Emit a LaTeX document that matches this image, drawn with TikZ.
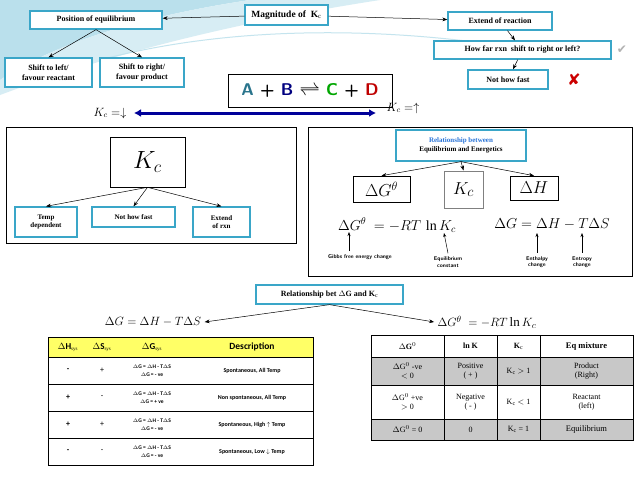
\documentclass[tikz,border=0pt]{standalone}
\usepackage{fontspec}
\setmainfont{Liberation Serif}
\newfontfamily\carfont{Carlito}
\newfontfamily\djfont{DejaVu Sans}
\usetikzlibrary{arrows.meta}
\definecolor{teal1}{HTML}{3AA6C8}
\definecolor{yel}{HTML}{FFFF66}
\definecolor{gry}{HTML}{C8C8C8}
\tikzset{
 tb/.style={draw=teal1,line width=1.3pt,fill=white,font=\bfseries\fontsize{8}{9.5}\selectfont,align=center,inner sep=2pt},
 bb/.style={draw=black,line width=0.8pt,fill=white},
 ar/.style={-{Stealth[length=5pt]},black,line width=0.5pt},
 sm/.style={font=\sffamily\fontsize{5.5}{6.5}\selectfont\bfseries,align=center},
 tx/.style={font=\carfont\fontsize{6.5}{8.5}\selectfont,align=center},
}
\begin{document}
\begin{tikzpicture}[x=1pt,y=-1pt]
\useasboundingbox (0,0) rectangle (638,479);
\fill[white] (0,0) rectangle (638,479);
% swoosh
\fill[teal1!35] (0,0) -- (250,0) .. controls (150,15) and (60,40) .. (0,80) -- cycle;
\fill[teal1!20] (250,0) -- (380,0) .. controls (250,20) and (120,50) .. (0,95) -- (0,80) .. controls (60,40) and (150,15) .. (250,0);
\draw[teal1!30,line width=1pt] (100,60) .. controls (250,20) and (420,30) .. (540,52);
% top
\node[tb,minimum width=83pt,minimum height=20pt,font=\bfseries\fontsize{9.5}{10}\selectfont] (mag) at (286.5,15) {Magnitude of \ K$_\mathrm{c}$};
\node[tb,minimum width=132pt,minimum height=18pt] (pos) at (96,20) {Position of equilibrium};
\node[tb,minimum width=104pt,minimum height=18pt] (ext) at (500,21) {Extend of reaction};
\node[tb,minimum width=87pt,minimum height=29pt] (sl) at (48.5,72.5) {Shift to left/\\favour reactant};
\node[tb,minimum width=84pt,minimum height=29pt] (sr) at (142,72.5) {Shift to right/\\favour product};
\node[tb,minimum width=177pt,minimum height=18pt] (how) at (522.5,50) {How far rxn \ shift to right or left?};
\node[tb,minimum width=80pt,minimum height=19pt] (nf) at (508,79.5) {Not how fast};
\node[text=gray!60,font=\djfont\fontsize{12}{12}\selectfont] (ck) at (622,50) {✔};
\node[text=red!80!black,font=\djfont\bfseries\fontsize{16}{16}\selectfont] (xx) at (574,80) {✘};
\draw[ar] (mag) -- (pos);
\draw[ar] (mag) -- (ext);
\draw[ar] (pos.south) -- (sl.north);
\draw[ar] (pos.south) -- (sr.north);
\draw[ar] (ext) -- (how);
\draw[ar] (how) -- (nf);
\node[draw,line width=0.8pt,minimum width=164pt,minimum height=33pt,font=\sffamily\bfseries\fontsize{17}{17}\selectfont] (eq) at (310,90.5)
 {\textcolor{teal1!70!black}{A} + \textcolor{blue!50!black}{B} {\fontsize{22}{22}\selectfont$\rightleftharpoons$} \textcolor{green!65!black}{C} + \textcolor{red!75!black}{D}};
\node[font=\fontsize{12}{12}\selectfont,inner sep=1pt] (kd) at (110,113) {$K_c = \downarrow$};
\node[font=\fontsize{12}{12}\selectfont,inner sep=1pt] (ku) at (403,108) {$K_c = \uparrow$};
\coordinate (a1) at (134,113);
\coordinate (a2) at (376,113);
\draw[{Latex[length=7pt,width=8pt]}-{Latex[length=7pt,width=8pt]},line width=3pt,blue!60!black] (a1) -- (a2);
% left box
\node[bb,minimum width=290pt,minimum height=116pt] (lb) at (151,185) {};
\node[draw,line width=0.6pt,minimum width=75pt,minimum height=50pt,font=\fontsize{24}{24}\selectfont] (kc) at (147.5,162) {$K_c$};
\node[tb,font=\bfseries\fontsize{7}{8.5}\selectfont,minimum width=62pt,minimum height=30pt] (tmp) at (46,222) {Temp\\dependent};
\node[tb,font=\bfseries\fontsize{7}{8.5}\selectfont,minimum width=83pt,minimum height=20pt] (nf2) at (133.5,217) {Not how fast};
\node[tb,font=\bfseries\fontsize{7}{8.5}\selectfont,minimum width=57pt,minimum height=30pt] (ex2) at (221.5,222) {Extend\\of rxn};
\draw[ar] (kc.south) -- (tmp.north);
\draw[ar] (kc.south) -- (nf2.north);
\draw[ar] (kc.south) -- (ex2.north);
% right box
\node[bb,minimum width=324pt,minimum height=149pt] (rb) at (470,201.5) {};
\node[tb,font=\bfseries\fontsize{7}{8.5}\selectfont,minimum width=130pt,minimum height=31pt] (rel) at (461,145.5) {\textcolor{teal1!70!blue}{Relationship between}\\Equilibrium and Energetics};
\node[draw,line width=0.6pt,minimum width=57pt,minimum height=26pt,font=\fontsize{17}{17}\selectfont] (dg) at (381.5,189) {$\Delta G^{\theta}$};
\node[draw=gray,line width=1pt,minimum width=39pt,minimum height=37pt,font=\fontsize{19}{19}\selectfont] (kc2) at (463.5,189.5) {$K_c$};
\node[draw,line width=0.6pt,minimum width=48pt,minimum height=24pt,font=\fontsize{17}{17}\selectfont] (dh) at (534,188) {$\Delta H$};
\draw[ar] (rel.south) -- (dg.north);
\draw[ar] (rel.south) -- (kc2.north);
\draw[ar] (rel.south) -- (dh.north);
\node[font=\fontsize{14}{14}\selectfont] (e1) at (397,225) {$\Delta G^{\theta}\ =-RT\,\ln K_c$};
\node[font=\fontsize{14}{14}\selectfont] (e2) at (552,224) {$\Delta G=\Delta H-T\Delta S$};
\node[sm] (l1) at (360,257) {Gibbs free energy change};
\node[sm] (l2) at (448,262) {Equilibrium\\constant};
\node[sm] (l3) at (537,262) {Enthalpy\\change};
\node[sm] (l4) at (582,262) {Entropy\\change};
\coordinate (p1) at (349,232); \coordinate (p2) at (444,233); \coordinate (p3) at (537,233); \coordinate (p4) at (582,233);
\coordinate (q1) at (349,251);
\draw[-{Stealth[length=4pt]},line width=0.5pt] (q1) -- (p1);
\draw[-{Stealth[length=4pt]},line width=0.5pt] (l2.north) -- (p2);
\draw[-{Stealth[length=4pt]},line width=0.5pt] (l3.north) -- (p3);
\draw[-{Stealth[length=4pt]},line width=0.5pt] (l4.north) -- (p4);
% relationship bet
\node[tb,minimum width=147pt,minimum height=19pt] (rg) at (329.5,294.5) {Relationship bet $\Delta$G and K$_\mathrm{c}$};
\node[font=\fontsize{13}{13}\selectfont] (f1) at (153,322) {$\Delta G=\Delta H-T\Delta S$};
\node[font=\fontsize{13}{13}\selectfont] (f2) at (487,322) {$\Delta G^{\theta}\ =-RT\ln K_c$};
\draw[ar] (rg.south) -- (f1.east);
\draw[ar] (rg.south) -- (f2.west);
% left table
\fill[yel] (48,337) rectangle (313,357);
\draw[line width=0.8pt] (48,337) rectangle (313,465);
\foreach \y in {357,384,411,438} \draw[line width=0.5pt] (48,\y) -- (313,\y);
\node[font=\carfont\bfseries\fontsize{9}{9}\selectfont] (h1) at (68,347) {$\Delta$H$_\mathrm{\scriptscriptstyle sys}$};
\node[font=\carfont\bfseries\fontsize{9}{9}\selectfont] (h2) at (102,347) {$\Delta$S$_\mathrm{\scriptscriptstyle sys}$};
\node[font=\carfont\bfseries\fontsize{9}{9}\selectfont] (h3) at (152,347) {$\Delta$G$_\mathrm{\scriptscriptstyle sys}$};
\node[font=\carfont\bfseries\fontsize{9.5}{9.5}\selectfont] (h4) at (252,347) {Description};
\foreach \y/\a/\b/\g/\d [count=\i] in {370.5/-/+/-/{Spontaneous,\ All Temp}, 397.5/+/-/+/{Non spontaneous, All Temp}, 424.5/+/+/-/{Spontaneous,\ High $\uparrow$ Temp}, 451.5/-/-/-/{Spontaneous, Low $\downarrow$ Temp}}{
 \node[tx,font=\carfont\bfseries\fontsize{8}{8}\selectfont] (ra\i) at (68,\y) {\a};
 \node[tx,font=\carfont\fontsize{8}{8}\selectfont] (rb\i) at (102,\y) {\b};
 \node[tx,font=\carfont\bfseries\fontsize{5.5}{8.5}\selectfont] (rc\i) at (152,\y) {$\Delta$G = $\Delta$H - T$\Delta$S\\$\Delta$G = \g\ ve};
 \node[tx,font=\carfont\bfseries\fontsize{6}{8}\selectfont] (rd\i) at (252,\y) {\d};
}
% right table
\fill[gry] (371,357) rectangle (633,385);
\fill[gry] (371,419) rectangle (633,440);
\draw[line width=0.8pt] (371,335) rectangle (633,440);
\foreach \y in {357,385,419} \draw[line width=0.6pt] (371,\y) -- (633,\y);
\foreach \x in {444,497,540} \draw[line width=0.6pt] (\x,335) -- (\x,440);
\tikzset{rt/.style={font=\fontsize{8}{9.5}\selectfont,align=center}}
\node[rt,font=\bfseries\fontsize{8}{9}\selectfont] (c1) at (407.5,346) {$\Delta$G$^0$};
\node[rt,font=\bfseries\fontsize{8}{9}\selectfont] (c2) at (470.5,346) {ln K};
\node[rt,font=\bfseries\fontsize{8}{9}\selectfont] (c3) at (518.5,346) {K$_\mathrm{c}$};
\node[rt,font=\bfseries\fontsize{8.5}{9}\selectfont] (c4) at (586.5,346) {Eq mixture};
\node[rt] (d1) at (407.5,371) {$\Delta$G$^0$ -ve\\$<$ 0};
\node[rt] (d2) at (470.5,371) {Positive\\( + )};
\node[rt] (d3) at (518.5,371) {K$_\mathrm{c}$ $>$ 1};
\node[rt] (d4) at (586.5,371) {Product\\(Right)};
\node[rt] (e1a) at (407.5,402) {$\Delta$G$^0$ +ve\\$>$ 0};
\node[rt] (e2a) at (470.5,402) {Negative\\( - )};
\node[rt] (e3a) at (518.5,402) {K$_\mathrm{c}$ $<$ 1};
\node[rt] (e4a) at (586.5,402) {Reactant\\(left)};
\node[rt] (g1) at (407.5,429.5) {$\Delta$G$^0$ = 0};
\node[rt] (g2) at (470.5,429.5) {0};
\node[rt] (g3) at (518.5,429.5) {K$_\mathrm{c}$ = 1};
\node[rt,font=\fontsize{8.5}{9}\selectfont] (g4) at (586.5,429.5) {Equilibrium};
\end{tikzpicture}
\end{document}
